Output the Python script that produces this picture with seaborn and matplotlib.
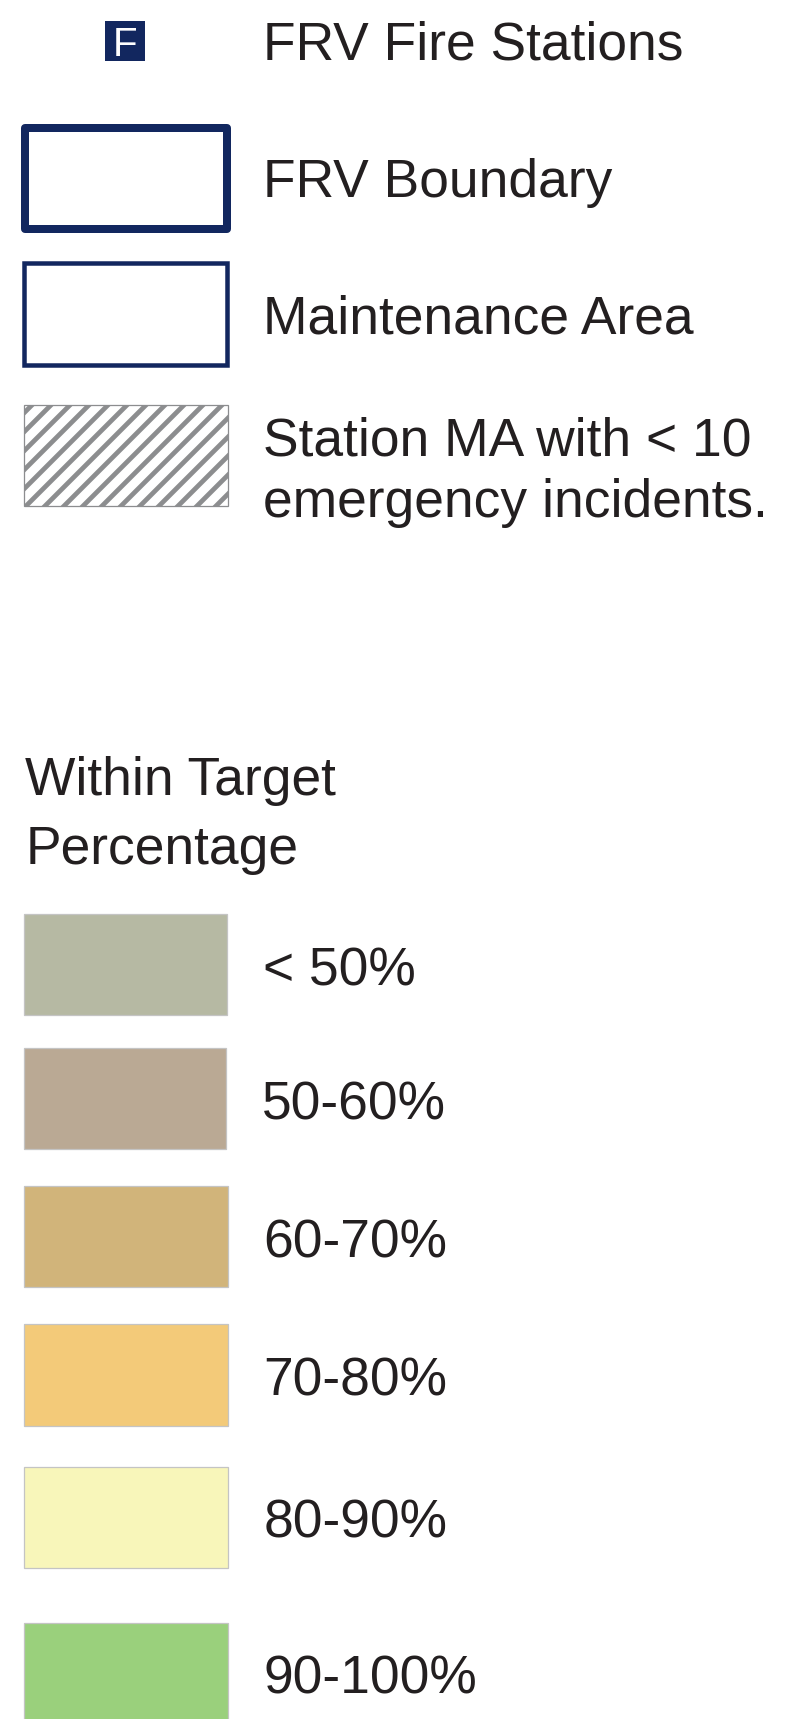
import matplotlib
matplotlib.use("Agg")
import matplotlib.pyplot as plt
import seaborn as sns

# legend content
map_labels = ["FRV Boundary", "Maintenance Area"]
hatch_label = ["Station MA with < 10", "emergency incidents."]
station_label = "FRV Fire Stations"
title_lines = ["Within Target", "Percentage"]
classes = ["< 50%", "50-60%", "60-70%", "70-80%", "80-90%", "90-100%"]
class_colors = ["#b6b9a3", "#baa994", "#d1b47a", "#f3ca79", "#f8f6ba", "#9ad07c"]

# layout, in pixels of the 789x1719 picture
W, H = 789, 1719
DPI = 114
navy = "#12275f"
ink = "#231f20"
text_size = 33.7

swatch_top = [914, 1048, 1186, 1324, 1467, 1623]
swatch_bottom = [1015, 1149, 1287, 1426, 1568, 1726]
swatch_left = [24.3, 24.3, 24.3, 24.3, 24.3, 24.3]
swatch_right = [227.5, 226.5, 228, 228, 228, 228]
class_base = [985, 1119, 1257, 1395, 1537.5, 1693]
class_x = [263.5, 261.5, 263.5, 263.5, 263.5, 263.5]

sns.set_theme(style="white")
plt.rcParams["font.family"] = ["Liberation Sans", "DejaVu Sans"]
plt.rcParams["hatch.linewidth"] = 3.0

fig = plt.figure(figsize=(W / DPI, H / DPI), dpi=DPI)
ax = fig.add_axes([0, 0, 1, 1])


def box(x0, x1, y0, y1, **kws):
    sns.barplot(x=[x1 - x0], y=[(y0 + y1) / 2], orient="y", native_scale=True,
                width=y1 - y0, left=x0, saturation=1, errorbar=None, ax=ax, **kws)


def label(x, y, s, **kws):
    kws.setdefault("color", ink)
    kws.setdefault("fontsize", text_size)
    ax.text(x, y, s, va="baseline", ha="left", **kws)


# top block
box(105, 145, 21, 61, color=navy, linewidth=0)
ax.text(125, 56, "F", color="white", fontsize=25.5, ha="center", va="baseline",
        fontweight="light")
label(263.5, 59, station_label)

box(24.8, 227.3, 127.5, 228.5, color="white", edgecolor=navy, linewidth=8 * 72 / DPI)
ax.patches[-1].set_joinstyle("round")
label(263.5, 197, map_labels[0])

box(24.5, 227, 263, 365, color="white", edgecolor=navy, linewidth=4.5 * 72 / DPI)
label(263.5, 334, map_labels[1])

box(24, 228, 405, 505.5, color="white", edgecolor="#8c8d8f", linewidth=0.8, hatch="//")
label(263.5, 455, hatch_label[0])
label(263.5, 516.5, hatch_label[1])

# class legend
label(25, 795, title_lines[0])
label(26, 864, title_lines[1])

for i, name in enumerate(classes):
    box(swatch_left[i], swatch_right[i], swatch_top[i], swatch_bottom[i],
        color=class_colors[i], edgecolor="#c4c4c4", linewidth=0.8)
    label(class_x[i], class_base[i], name)

ax.set_xlim(0, W)
ax.set_ylim(H, 0)
ax.axis("off")
fig.savefig("out.png", dpi=DPI, facecolor="white")
